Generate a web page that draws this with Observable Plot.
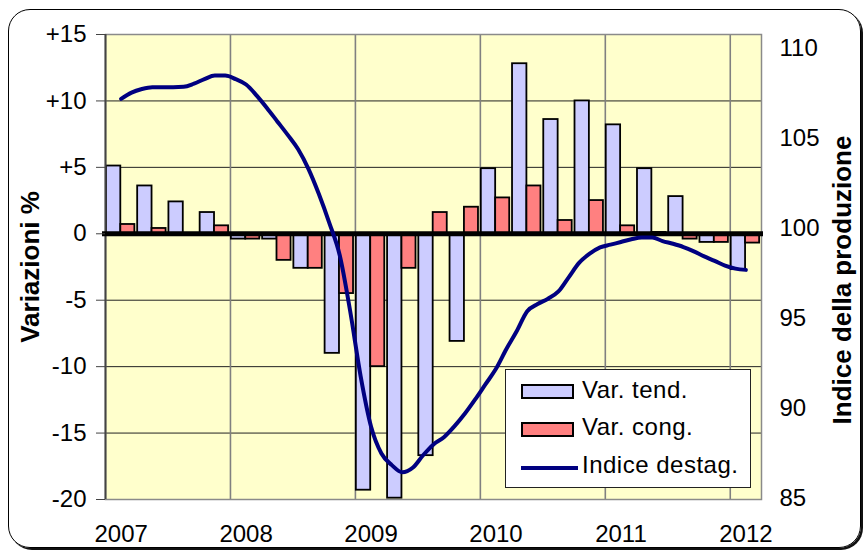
<!DOCTYPE html>
<html>
<head>
<meta charset="utf-8">
<script src="https://cdn.jsdelivr.net/npm/d3@7"></script>
<script src="https://cdn.jsdelivr.net/npm/@observablehq/plot@0.6"></script>
<style>
  body { margin: 0; background: #fff; }
  #wrap { position: relative; width: 866px; height: 558px; overflow: hidden; background: #fff;
          font-family: "Liberation Sans", Arial, sans-serif; }
  #border { position: absolute; left: 8px; top: 9px; width: 851px; height: 537px;
            border: 1.5px solid #000; border-radius: 22px; box-shadow: 2px 2px 0 #111; }
  #chart { position: absolute; left: 0; top: 0; }
  #legend { position: absolute; left: 505px; top: 369px; width: 246px; height: 119px; box-sizing: border-box;
            background: #fff; border: 1px solid #222; font-size: 24px; letter-spacing: 0.5px; }
  #legend .sw { position: absolute; left: 15px; width: 53px; height: 15px; box-sizing: border-box; border: 2px solid #000; }
  #legend .ln { position: absolute; left: 15px; width: 57px; height: 4px; background: #000080; }
  #legend .tx { position: absolute; left: 76px; line-height: 24px; white-space: nowrap; color: #000; }
</style>
</head>
<body>
<div id="wrap">
  <div id="border"></div>
  <div id="chart"></div>
  <div id="legend"></div>
</div>
<script>
// ---- data ----
const years = ["2007", "2008", "2009", "2010", "2011", "2012"];
const quarters = [
  "2007-T1","2007-T2","2007-T3","2007-T4",
  "2008-T1","2008-T2","2008-T3","2008-T4",
  "2009-T1","2009-T2","2009-T3","2009-T4",
  "2010-T1","2010-T2","2010-T3","2010-T4",
  "2011-T1","2011-T2","2011-T3","2011-T4",
  "2012-T1"
];
const varTend = [5.1, 3.6, 2.4, 1.6, -0.4, -0.4, -2.6, -9.0, -19.3, -19.9, -16.7, -8.1, 4.9, 12.8, 8.6, 10.0, 8.2, 4.9, 2.8, -0.65, -2.7];
const varCong = [0.7, 0.4, 0.0, 0.6, -0.4, -2.0, -2.6, -4.5, -10.0, -2.6, 1.6, 2.0, 2.7, 3.6, 1.0, 2.5, 0.6, 0.1, -0.4, -0.65, -0.7];
// monthly seasonally adjusted index, Jan 2007 .. Jan 2012
const indiceDestag = [
  107.2, 107.55, 107.75, 107.85, 107.85, 107.85, 107.87, 108.05, 108.3, 108.5, 108.5, 108.3,
  108.0, 107.4, 106.7, 105.95, 105.2, 104.4, 103.3, 101.9, 100.3, 98.5, 95.4, 91.8,
  89.0, 87.5, 86.85, 86.45, 86.7, 87.4, 88.0, 88.4, 89.0, 89.7, 90.5, 91.35,
  92.2, 93.3, 94.3, 95.4, 95.8, 96.1, 96.5, 97.3, 98.1, 98.6, 98.95, 99.1,
  99.25, 99.4, 99.5, 99.5, 99.3, 99.15, 98.97, 98.73, 98.45, 98.2, 97.93, 97.77,
  97.7
];
const leftTicks = [-20, -15, -10, -5, 0, 5, 10, 15];
const rightTicks = [85, 90, 95, 100, 105, 110];
const seriesNames = ["Var. tend.", "Var. cong.", "Indice destag."];
const colors = ["#CCCCFF", "#FF8080", "#000080"];

// ---- scales helpers ----
const leftDomain = [-20, 15];
const rightDomain = [84.94, 110.78];
const toLeft = v => (v - rightDomain[0]) / (rightDomain[1] - rightDomain[0]) * (leftDomain[1] - leftDomain[0]) + leftDomain[0];
const toRight = v => (v - leftDomain[0]) / (leftDomain[1] - leftDomain[0]) * (rightDomain[1] - rightDomain[0]) + rightDomain[0];

const bars = quarters.flatMap((q, i) => [
  {q, series: seriesNames[0], value: varTend[i], x1: i + 0.03, x2: i + 0.49},
  {q, series: seriesNames[1], value: varCong[i], x1: i + 0.49, x2: i + 0.94}
]);
const line = indiceDestag.map((v, m) => ({x: 0.5 + m / 3, y: toLeft(v), v}));
const yearBounds = years.slice(1).map((y, k) => (k + 1) * 4);
const yearLabelPos = years.map((y, k) => k * 4 + 0.5);
const gridY = leftTicks.filter(t => t !== 0 && t !== leftDomain[0] && t !== leftDomain[1]);

const chart = Plot.plot({
  width: 866,
  height: 558,
  marginLeft: 105,
  marginRight: 105,
  marginTop: 34,
  marginBottom: 59,
  style: {background: "transparent", fontFamily: "'Liberation Sans', Arial, sans-serif", fontSize: "24px", color: "#000"},
  x: {domain: [0, quarters.length]},
  y: {domain: leftDomain},
  color: {domain: seriesNames.slice(0, 2), range: colors.slice(0, 2)},
  marks: [
    Plot.frame({fill: "#FFFFCC", stroke: null}),
    Plot.ruleY(gridY, {stroke: "#222", strokeWidth: 1}),
    Plot.ruleX(yearBounds, {stroke: "#808080", strokeWidth: 1.6}),
    Plot.frame({stroke: "#8a8a8a", strokeWidth: 1.5}),
    Plot.rect(bars, {x1: "x1", x2: "x2", y1: () => 0, y2: "value", fill: "series", stroke: "#000", strokeWidth: 1.8}),
    Plot.ruleX([0], {stroke: "#444", strokeWidth: 2}),
    Plot.ruleY([0], {stroke: "#000", strokeWidth: 5, insetLeft: -3, insetRight: -2}),
    Plot.line(line, {x: "x", y: "y", stroke: colors[2], strokeWidth: 4, curve: "monotone-x"}),
    Plot.axisY(leftTicks, {anchor: "left", tickSize: 9, tickPadding: 10, stroke: "#444",
      tickFormat: d => d > 0 ? "+" + d : String(d), label: null}),
    Plot.axisY(rightTicks.map(toLeft), {anchor: "right", tickSize: 0, tickPadding: 18,
      tickFormat: d => String(Math.round(toRight(d))), label: null}),
    Plot.axisX(yearLabelPos, {anchor: "bottom", tickSize: 0, tickPadding: 25,
      tickFormat: d => years[Math.round((d - 0.5) / 4)], label: null}),
    Plot.text(["Variazioni %"], {frameAnchor: "left", textAnchor: "middle", dx: -75, rotate: -90, fontWeight: "bold", fontSize: 26}),
    Plot.text(["Indice della produzione"], {frameAnchor: "right", textAnchor: "middle", dx: 81, dy: 13, rotate: -90, fontWeight: "bold", fontSize: 26})
  ]
});
document.getElementById("chart").appendChild(chart);

// ---- legend ----
const legend = document.getElementById("legend");
const rows = [
  {name: seriesNames[0], kind: "sw", color: colors[0], top: 14, textTop: 8},
  {name: seriesNames[1], kind: "sw", color: colors[1], top: 52, textTop: 45},
  {name: seriesNames[2], kind: "ln", color: colors[2], top: 96, textTop: 83}
];
for (const r of rows) {
  const s = document.createElement("div");
  s.className = r.kind;
  s.style.top = r.top + "px";
  s.style.background = r.color;
  legend.appendChild(s);
  const t = document.createElement("div");
  t.className = "tx";
  t.style.top = r.textTop + "px";
  t.textContent = r.name;
  legend.appendChild(t);
}
</script>
</body>
</html>
